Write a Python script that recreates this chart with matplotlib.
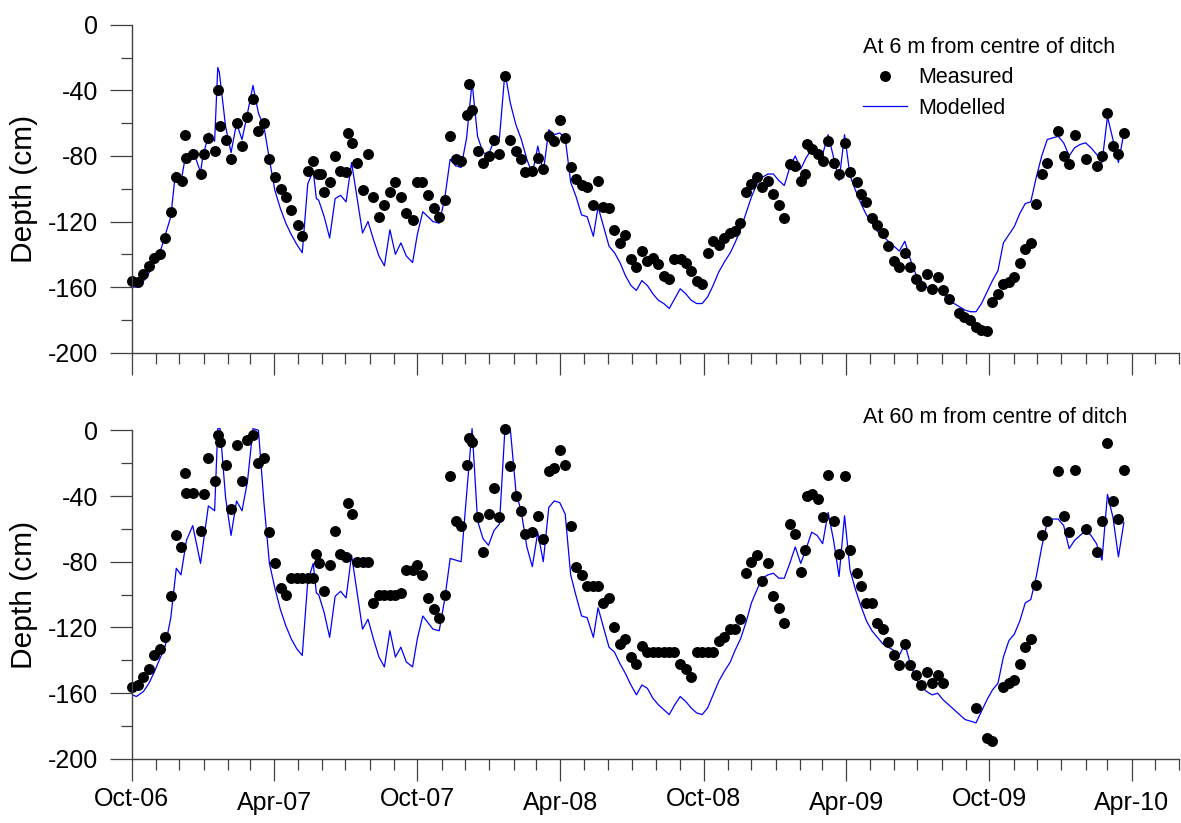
import pandas as pd
import matplotlib
matplotlib.use("Agg")
import matplotlib.pyplot as plt
import matplotlib.dates as mdates
from matplotlib.ticker import MultipleLocator

plt.rcParams['font.family'] = ['Liberation Sans', 'DejaVu Sans']
plt.rcParams['axes.unicode_minus'] = False

# Observation times are stored as days after 1 Oct 2006
start = pd.Timestamp("2006-10-01")
end = pd.Timestamp("2010-06-01")

# Measured water table depth, 6 m from centre of ditch
meas_6m_day = [1, 8, 15, 22, 29, 36, 43, 50, 57, 64,
               68, 70, 78, 88, 93, 98, 106, 110, 113, 120,
               127, 134, 141, 148, 155, 162, 169, 176, 183, 191,
               197, 204, 213, 218, 225, 232, 238, 242, 246, 253,
               260, 266, 274, 276, 281, 288, 296, 302, 309, 316,
               323, 330, 337, 344, 351, 359, 364, 371, 379, 386,
               393, 400, 407, 414, 421, 428, 431, 435, 442, 449,
               456, 463, 470, 477, 484, 491, 498, 503, 512, 519,
               526, 533, 540, 547, 554, 561, 568, 575, 582, 590,
               596, 602, 610, 617, 624, 631, 638, 645, 652, 659,
               666, 673, 680, 687, 693, 702, 709, 715, 722, 729,
               736, 743, 750, 757, 764, 771, 778, 785, 791, 799,
               806, 813, 820, 827, 834, 841, 848, 855, 861, 863,
               869, 877, 883, 890, 897, 904, 911, 918, 927, 932,
               939, 946, 953, 960, 967, 974, 981, 988, 995, 1002,
               1009, 1016, 1023, 1030, 1037, 1044, 1057, 1064, 1071, 1079,
               1086, 1093, 1100, 1107, 1114, 1121, 1128, 1135, 1142, 1149,
               1156, 1163, 1170, 1184, 1191, 1198, 1205, 1219, 1233, 1240,
               1247, 1254, 1261, 1268]
meas_6m_depth = [-156, -157, -152, -147, -142, -140, -130, -114, -93, -95,
                 -67, -81, -79, -91, -79, -69, -77, -40, -62, -70,
                 -82, -60, -74, -56, -45, -65, -60, -82, -93, -100,
                 -105, -113, -122, -129, -89, -83, -91, -91, -102, -96,
                 -80, -89, -90, -66, -72, -84, -101, -79, -105, -117,
                 -110, -102, -96, -105, -115, -119, -96, -96, -104, -112,
                 -117, -107, -68, -82, -83, -55, -36, -52, -77, -84,
                 -80, -70, -79, -31, -70, -77, -82, -90, -89, -81,
                 -88, -68, -71, -58, -69, -87, -94, -98, -99, -110,
                 -95, -111, -112, -125, -133, -128, -143, -148, -138, -144,
                 -142, -146, -153, -155, -143, -143, -145, -150, -156, -158,
                 -139, -132, -134, -130, -127, -126, -121, -102, -97, -93,
                 -99, -95, -103, -110, -118, -85, -86, -95, -91, -73,
                 -76, -79, -83, -71, -84, -91, -72, -90, -96, -103,
                 -108, -118, -122, -127, -135, -144, -148, -139, -148, -155,
                 -159, -152, -161, -154, -162, -167, -176, -178, -180, -184,
                 -186, -187, -169, -164, -158, -157, -154, -145, -137, -133,
                 -109, -91, -84, -65, -80, -85, -67, -82, -86, -80,
                 -54, -74, -79, -66]

# Modelled water table depth, 6 m from centre of ditch
mod_6m_day = [1, 6, 12, 19, 26, 32, 38, 43, 50, 56,
              63, 68, 72, 78, 88, 91, 99, 106, 110, 112,
              120, 127, 134, 141, 148, 155, 162, 169, 176, 183,
              190, 197, 204, 211, 218, 225, 232, 236, 239, 246,
              253, 260, 267, 274, 281, 295, 302, 309, 316, 323,
              330, 337, 344, 351, 359, 365, 372, 385, 393, 400,
              407, 414, 421, 428, 435, 442, 449, 456, 463, 470,
              477, 484, 491, 498, 505, 512, 519, 526, 533, 540,
              547, 554, 561, 568, 575, 582, 590, 596, 610, 617,
              624, 631, 638, 645, 652, 659, 666, 673, 680, 687,
              694, 701, 708, 715, 722, 729, 736, 743, 750, 757,
              765, 771, 778, 785, 792, 800, 806, 813, 820, 827,
              834, 841, 848, 855, 862, 869, 876, 883, 890, 897,
              904, 911, 918, 925, 932, 939, 946, 953, 960, 967,
              974, 981, 988, 995, 1002, 1009, 1016, 1023, 1030, 1037,
              1044, 1051, 1058, 1065, 1072, 1079, 1086, 1093, 1100, 1107,
              1114, 1121, 1128, 1135, 1142, 1149, 1156, 1163, 1170, 1177,
              1184, 1191, 1198, 1205, 1212, 1219, 1226, 1233, 1240, 1247,
              1254, 1261, 1268]
mod_6m_depth = [-160, -160, -158, -154, -148, -142, -136, -128, -117, -90,
                -96, -82, -79, -76, -90, -80, -66, -71, -26, -29,
                -62, -78, -60, -70, -54, -37, -54, -62, -82, -101,
                -112, -121, -128, -134, -139, -97, -89, -106, -107, -117,
                -130, -106, -104, -108, -84, -127, -120, -131, -141, -147,
                -125, -140, -133, -141, -145, -128, -114, -120, -121, -106,
                -82, -86, -87, -69, -35, -68, -78, -79, -71, -69,
                -29, -48, -61, -70, -82, -91, -74, -90, -64, -67,
                -66, -69, -96, -105, -116, -117, -129, -111, -135, -139,
                -145, -153, -159, -162, -156, -159, -164, -168, -170, -173,
                -167, -161, -164, -168, -170, -170, -166, -159, -151, -145,
                -139, -133, -125, -115, -105, -96, -93, -91, -91, -95,
                -98, -87, -80, -88, -81, -76, -77, -79, -67, -81,
                -95, -67, -92, -101, -109, -116, -121, -126, -129, -132,
                -135, -138, -132, -143, -152, -156, -160, -161, -161, -164,
                -168, -170, -172, -174, -175, -175, -170, -163, -156, -150,
                -133, -128, -123, -115, -109, -108, -93, -80, -70, -69,
                -68, -72, -80, -75, -73, -72, -75, -79, -84, -56,
                -70, -84, -66]

# Measured water table depth, 60 m from centre of ditch
meas_60m_day = [1, 8, 15, 22, 29, 36, 43, 50, 57, 63,
                68, 70, 78, 88, 93, 98, 106, 110, 113, 120,
                127, 134, 141, 148, 155, 162, 169, 176, 183, 191,
                197, 204, 211, 218, 225, 232, 236, 240, 246, 253,
                260, 266, 274, 276, 281, 288, 296, 302, 309, 316,
                323, 330, 337, 344, 351, 359, 364, 371, 379, 386,
                393, 400, 407, 414, 421, 428, 431, 435, 442, 449,
                456, 463, 470, 477, 484, 491, 498, 503, 512, 519,
                526, 533, 540, 547, 554, 561, 568, 575, 582, 589,
                596, 602, 610, 617, 624, 631, 638, 645, 652, 659,
                666, 673, 680, 687, 693, 701, 708, 715, 722, 729,
                736, 743, 750, 757, 764, 771, 778, 785, 791, 799,
                806, 813, 820, 827, 834, 841, 848, 855, 861, 863,
                869, 877, 883, 890, 897, 904, 911, 918, 927, 932,
                939, 946, 953, 960, 967, 974, 981, 988, 995, 1002,
                1009, 1016, 1023, 1030, 1037, 1079, 1093, 1100, 1114, 1121,
                1128, 1135, 1142, 1149, 1156, 1163, 1170, 1184, 1191, 1198,
                1205, 1219, 1233, 1240, 1247, 1254, 1261, 1268]
meas_60m_depth = [-156, -155, -150, -145, -137, -133, -126, -101, -64, -71,
                  -26, -38, -38, -61, -39, -17, -31, -3, -7, -21,
                  -48, -9, -31, -6, -3, -20, -17, -62, -81, -96,
                  -100, -90, -90, -90, -90, -90, -75, -81, -98, -82,
                  -61, -75, -77, -44, -51, -80, -80, -80, -105, -100,
                  -100, -100, -100, -99, -85, -85, -82, -88, -102, -109,
                  -114, -100, -28, -55, -58, -21, -5, -7, -53, -74,
                  -51, -35, -53, 1, -22, -40, -49, -63, -62, -52,
                  -66, -25, -23, -12, -21, -58, -83, -88, -95, -95,
                  -95, -105, -102, -120, -130, -127, -138, -142, -131, -135,
                  -135, -135, -135, -135, -135, -142, -145, -150, -135, -135,
                  -135, -135, -128, -126, -121, -121, -115, -87, -80, -76,
                  -92, -81, -101, -108, -117, -57, -63, -86, -73, -40,
                  -39, -42, -53, -27, -55, -75, -28, -73, -87, -95,
                  -105, -105, -117, -121, -129, -137, -143, -130, -143, -149,
                  -155, -147, -154, -149, -154, -169, -187, -189, -156, -154,
                  -152, -142, -132, -127, -94, -64, -55, -25, -52, -62,
                  -24, -60, -74, -55, -8, -43, -54, -24]

# Modelled water table depth, 60 m from centre of ditch
mod_60m_day = [1, 6, 15, 22, 29, 36, 43, 50, 57, 63,
               70, 78, 88, 92, 98, 106, 110, 113, 120, 127,
               134, 141, 148, 155, 162, 169, 176, 183, 190, 197,
               204, 211, 218, 225, 232, 236, 239, 246, 253, 260,
               267, 274, 281, 295, 302, 309, 316, 323, 330, 337,
               344, 351, 359, 365, 372, 385, 393, 400, 407, 414,
               421, 428, 435, 442, 449, 456, 463, 470, 477, 484,
               491, 498, 505, 512, 519, 526, 533, 540, 547, 554,
               561, 568, 575, 582, 590, 596, 610, 617, 624, 631,
               638, 645, 652, 659, 666, 673, 680, 687, 694, 701,
               708, 715, 722, 729, 736, 743, 750, 757, 765, 771,
               778, 785, 792, 800, 806, 813, 820, 827, 834, 841,
               848, 855, 862, 869, 876, 883, 890, 897, 904, 911,
               918, 925, 932, 939, 946, 953, 960, 967, 974, 981,
               988, 995, 1002, 1009, 1016, 1023, 1030, 1037, 1044, 1051,
               1058, 1065, 1072, 1079, 1086, 1093, 1100, 1107, 1114, 1121,
               1128, 1135, 1142, 1149, 1156, 1163, 1170, 1177, 1184, 1191,
               1198, 1205, 1212, 1219, 1226, 1233, 1240, 1247, 1254, 1261,
               1268]
mod_60m_depth = [-161, -162, -159, -154, -147, -139, -131, -114, -84, -88,
                 -67, -58, -81, -67, -46, -49, 1, 1, -41, -64,
                 -43, -49, -31, 1, 0, -44, -81, -96, -109, -119,
                 -127, -133, -137, -92, -81, -99, -100, -111, -126, -101,
                 -98, -102, -76, -121, -115, -127, -138, -144, -122, -138,
                 -132, -141, -144, -127, -113, -121, -122, -103, -78, -79,
                 -80, -39, 1, -55, -66, -70, -61, -57, 1, 0,
                 -37, -50, -71, -83, -62, -80, -47, -43, -44, -51,
                 -88, -101, -113, -114, -126, -108, -132, -135, -142, -148,
                 -155, -161, -155, -157, -163, -167, -170, -173, -167, -162,
                 -165, -169, -172, -173, -169, -161, -153, -147, -141, -134,
                 -127, -117, -105, -96, -90, -88, -87, -90, -90, -81,
                 -71, -81, -72, -62, -64, -69, -50, -67, -89, -52,
                 -85, -97, -107, -116, -122, -126, -130, -132, -134, -137,
                 -130, -142, -151, -156, -159, -161, -160, -164, -167, -170,
                 -173, -176, -177, -178, -171, -164, -158, -154, -138, -128,
                 -124, -116, -105, -103, -89, -71, -56, -54, -54, -58,
                 -72, -67, -64, -61, -64, -69, -79, -39, -53, -77,
                 -56]

panel_titles = ["At 6 m from centre of ditch", "At 60 m from centre of ditch"]


def to_dates(days):
    return start + pd.to_timedelta(days, unit="D")


axis_col = "#404040"

fig = plt.figure(figsize=(11.81, 8.23), dpi=100)
ax1 = fig.add_axes([0.1115, 0.5714, 0.8872, 0.3985])
ax2 = fig.add_axes([0.1115, 0.0778, 0.8872, 0.3994])

series = [
    (ax1, meas_6m_day, meas_6m_depth, mod_6m_day, mod_6m_depth),
    (ax2, meas_60m_day, meas_60m_depth, mod_60m_day, mod_60m_depth),
]

for ax, md, mv, sd, sv in series:
    mod_line, = ax.plot(to_dates(sd), sv, color="#0000ff", lw=0.9,
                        label="Modelled", clip_on=False)
    meas_pts, = ax.plot(to_dates(md), mv, "o", color="black", ms=7.9,
                        mew=0, label="Measured", clip_on=False)

    ax.set_xlim(start, end)
    ax.set_ylim(-200, 0)
    for side in ("top", "right"):
        ax.spines[side].set_visible(False)
    for side in ("left", "bottom"):
        ax.spines[side].set_color(axis_col)
        ax.spines[side].set_linewidth(1.0)

    ax.xaxis.set_major_locator(mdates.MonthLocator(bymonth=[4, 10]))
    ax.xaxis.set_minor_locator(mdates.MonthLocator())
    ax.xaxis.set_major_formatter(mdates.DateFormatter("%b-%y"))
    ax.yaxis.set_major_locator(MultipleLocator(40))
    ax.yaxis.set_minor_locator(MultipleLocator(20))

    ax.tick_params(which="major", direction="out", length=15.8, width=0.9,
                   color=axis_col)
    ax.tick_params(which="minor", direction="out", length=7.9, width=0.9,
                   color=axis_col)
    ax.tick_params(axis="x", labelsize=18, pad=4.5)
    ax.tick_params(axis="y", labelsize=18, pad=8.5)

    ax.set_ylabel("Depth (cm)", fontsize=21.5)
    ax.yaxis.set_label_coords(-0.0894, 0.5)

ax1.tick_params(axis="x", labelbottom=False)

ax1.legend([meas_pts, mod_line], ["Measured", "Modelled"],
           title=panel_titles[0], loc="upper left",
           bbox_to_anchor=(863 / 1181, 1 - 37 / 823),
           bbox_transform=fig.transFigure, frameon=False,
           fontsize=15.5, title_fontsize=15.5, alignment="left",
           borderpad=0, borderaxespad=0, handlelength=2.05,
           handletextpad=0.5, labelspacing=0.44, numpoints=1)

ax2.text(0.698, 1.021, panel_titles[1], transform=ax2.transAxes,
         fontsize=15.5, ha="left", va="baseline")

# April labels sit a little lower than the October ones
fig.canvas.draw()
for tick in ax2.xaxis.get_major_ticks():
    if mdates.num2date(tick.get_loc()).month == 4:
        tick.set_pad(7.5)

fig.savefig("out.png", dpi=100)
